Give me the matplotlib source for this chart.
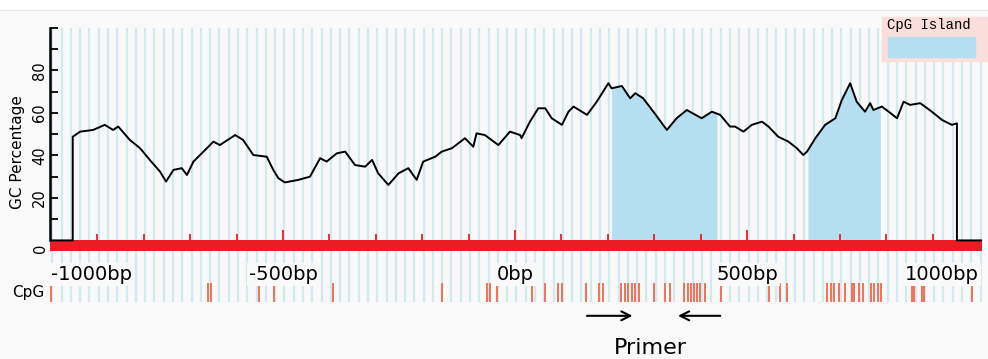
import numpy as np
import matplotlib
matplotlib.use('Agg')
import matplotlib.pyplot as plt
from matplotlib.patches import Rectangle
from matplotlib.lines import Line2D

# GC percentage along the sequence (bp relative to TSS)
gc_pos = [-953, -937, -909, -884, -866, -855, -830, -808, -787, -765, -752, -736, -718, -707,
          -693, -664, -650, -636, -603, -586, -564, -535, -521, -510, -496, -467, -442, -420,
          -406, -384, -366, -345, -323, -308, -295, -273, -251, -230, -212, -198, -172, -158,
          -136, -108, -90, -83, -65, -36, -11, 11, 14, 32, 50, 65, 79, 101, 115, 126, 155, 176,
          201, 208, 230, 248, 259, 276, 298, 327, 348, 370, 402, 424, 442, 463, 474, 492, 510,
          532, 546, 567, 589, 607, 621, 629, 647, 668, 690, 704, 722, 736, 754, 765, 772, 790,
          805, 823, 837, 851, 873, 898, 920, 941, 952]
gc_val = [48.8, 51.2, 52.0, 54.4, 52.0, 53.6, 47.3, 43.4, 37.9, 32.4, 27.7, 33.2, 34.0, 30.8,
          37.1, 43.4, 46.5, 44.9, 49.6, 47.3, 40.2, 39.4, 33.2, 29.3, 27.3, 28.5, 30.0, 38.7,
          37.1, 41.0, 41.8, 35.5, 34.7, 37.9, 31.6, 26.1, 31.6, 34.0, 28.5, 37.1, 39.4, 41.8,
          43.4, 48.1, 44.1, 50.4, 49.6, 44.9, 51.2, 49.6, 48.1, 55.9, 62.2, 62.2, 57.5, 54.4,
          60.6, 63.0, 59.1, 65.3, 74.0, 71.6, 72.7, 66.9, 69.3, 66.9, 60.6, 52.0, 57.5, 61.4,
          57.5, 60.6, 59.1, 53.6, 53.6, 51.2, 54.4, 55.9, 53.6, 48.8, 46.5, 43.4, 40.2, 41.8,
          48.1, 54.4, 57.5, 66.1, 74.0, 65.3, 60.6, 64.6, 61.4, 63.0, 60.6, 57.5, 65.3, 63.8,
          64.6, 60.6, 56.7, 54.4, 55.1]

cpg_sites = [-1000, -662, -656, -552, -519, -392, -157, -61, -54, -39, 37, 65, 93, 102, 152,
             181, 189, 228, 237, 244, 251, 259, 267, 300, 323, 334, 363, 373, 379, 386, 392,
             399, 409, 443, 547, 570, 586, 672, 680, 688, 698, 711, 725, 731, 742, 750, 766,
             774, 781, 789, 855, 860, 877, 881, 985]
cpg_islands = [(208, 435), (631, 787)]

fwd_primer = (149, 259)
rev_primer = (448, 345)

tick_pos = [-1000, -500, 0, 500, 1000]
tick_labels = ['-1000bp', '-500bp', '0bp', '500bp', '1000bp']
tick_ha = ['left', 'center', 'center', 'center', 'right']

RED = '#ec1c24'
ISLAND = '#b5dff1'
STRIPE = '#d3e9f0'
BG = '#f9f9f9'

x_lo, x_hi = -1002, 1006
gc_x = np.array(gc_pos, dtype=float)
gc_y = np.array(gc_val)

fig = plt.figure(figsize=(9.88, 3.59), dpi=100, facecolor=BG)
ax = fig.add_axes([50 / 988, 57 / 359, 932 / 988, 274 / 359])
ax.set_facecolor(BG)
ax.set_xlim(x_lo, x_hi)
ax.set_ylim(-29, 100)

# white band at the very top
fig.add_artist(Rectangle((0, 1 - 10 / 359), 1, 10 / 359, transform=fig.transFigure,
                         color='white', zorder=0))
fig.add_artist(Line2D([0, 1], [1 - 10 / 359] * 2, transform=fig.transFigure,
                      color='#e6e6e6', lw=0.8))

# light blue background stripes
ax.vlines(np.arange(-997, x_hi, 20), -29, 100, color=STRIPE, lw=1.6, zorder=0)

# CpG islands shaded under the curve
for s, e in cpg_islands:
    xs = np.concatenate([[s], gc_x[(gc_x > s) & (gc_x < e)], [e]])
    ax.fill_between(xs, 0, np.interp(xs, gc_x, gc_y), color=ISLAND, lw=0, zorder=1)

# red sequence bar with 100bp ticks
ax.fill_between([x_lo, x_hi], -4.8, 0, color=RED, lw=0, zorder=2)
bar_ticks = np.arange(-900, 1000, 100)
ax.vlines(bar_ticks, 0, np.where(bar_ticks % 500 == 0, 4.9, 3.1), color=RED, lw=1.3, zorder=2)

# GC curve, dropping to the baseline at both ends
line_x = np.concatenate([[x_lo, gc_x[0]], gc_x, [gc_x[-1], x_hi]])
line_y = np.concatenate([[0, 0], gc_y, [0, 0]])
ax.plot(line_x, line_y, color='black', lw=1.4, zorder=3)

# position labels
for p, lab, ha in zip(tick_pos, tick_labels, tick_ha):
    ax.text(p, -16, lab, ha=ha, va='center', fontsize=14, family='DejaVu Sans',
            bbox=dict(boxstyle='square,pad=0.1', fc=BG, ec='none'), zorder=4)

# CpG sites row
ax.vlines(cpg_sites, -29, -20, color='#f07257', lw=1.4, zorder=2)
ax.text(-6 / 932, -24.5, 'CpG', transform=ax.get_yaxis_transform(), ha='right',
        va='center', fontsize=11, family='DejaVu Sans')

# primers
ax.annotate('', xy=(fwd_primer[1], -35.5), xytext=(fwd_primer[0], -35.5),
            arrowprops=dict(arrowstyle='->', lw=1.5, color='black', mutation_scale=16),
            annotation_clip=False)
ax.annotate('', xy=(rev_primer[1], -35.5), xytext=(rev_primer[0], -35.5),
            arrowprops=dict(arrowstyle='->', lw=1.5, color='black', mutation_scale=16),
            annotation_clip=False)
ax.text(291, -55.3, 'Primer', ha='center', va='bottom', fontsize=16,
        family='DejaVu Sans', clip_on=False)

# y axis
for side in ['top', 'right', 'bottom']:
    ax.spines[side].set_visible(False)
ax.spines['left'].set_bounds(0, 100)
ax.spines['left'].set_linewidth(1.8)
ax.set_xticks([])
ax.set_yticks(range(10, 101, 10))
ax.set_yticklabels(['', '20', '', '40', '', '60', '', '80', '', ''])
ax.tick_params(axis='y', direction='in', length=6, width=1.3, pad=2, labelsize=10.5,
               labelrotation=90)
for t in ax.get_yticklabels():
    t.set_va('center')
ax.text(-2 / 932, -3.5, '0', transform=ax.get_yaxis_transform(), rotation=90,
        ha='right', va='center', fontsize=10.5)
ax.set_ylabel('GC Percentage', fontsize=11)
ax.yaxis.set_label_coords(-25 / 932, 0.547)

# legend box in the top right corner
fig.add_artist(Rectangle((882 / 988, 1 - 61 / 359), 0.2, 44 / 359, transform=fig.transFigure,
                         color='#f9dedb', zorder=5))
fig.add_artist(Rectangle((888 / 988, 1 - 57 / 359), 87 / 988, 20 / 359,
                         transform=fig.transFigure, color=ISLAND, zorder=6))
fig.text(887 / 988, 1 - 25 / 359, 'CpG Island', ha='left', va='center', fontsize=10,
         family='Liberation Mono', zorder=7)

fig.savefig('out.png', dpi=100, facecolor=BG)
